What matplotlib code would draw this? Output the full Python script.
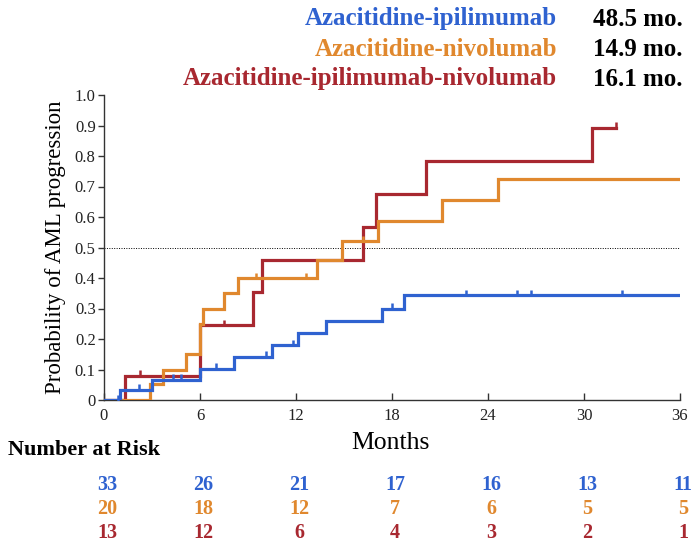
import matplotlib
matplotlib.use("Agg")
import matplotlib.pyplot as plt
from matplotlib.ticker import FixedLocator

plt.rcParams['font.family'] = ['Liberation Serif', 'DejaVu Serif']

# Cumulative incidence of AML progression (step functions, post)
arm_names = ["Azacitidine-ipilimumab", "Azacitidine-nivolumab",
             "Azacitidine-ipilimumab-nivolumab"]
median_labels = ["48.5 mo.", "14.9 mo.", "16.1 mo."]

ipi_t = [0, 1.0, 3.0, 6.0, 8.1, 10.5, 12.1, 13.9, 17.35, 18.75, 36]
ipi_p = [0, 0.033, 0.066, 0.103, 0.142, 0.18, 0.219, 0.26, 0.30, 0.344, 0.344]
ipi_cens_t = [0.9, 2.2, 4.3, 4.8, 7.0, 10.1, 11.8, 18.0, 22.6, 25.8, 26.7, 32.4]
ipi_cens_p = [0, 0.033, 0.066, 0.066, 0.103, 0.142, 0.18, 0.30, 0.344, 0.344, 0.344, 0.344]

nivo_t = [0, 2.9, 3.7, 5.1, 6.0, 6.2, 7.5, 8.4, 13.3, 14.9, 17.1, 21.1, 24.6, 36]
nivo_p = [0, 0.052, 0.098, 0.15, 0.25, 0.30, 0.352, 0.40, 0.459, 0.521, 0.588,
          0.656, 0.725, 0.725]
nivo_cens_t = [9.5, 12.6, 16.2]
nivo_cens_p = [0.40, 0.40, 0.521]

combo_t = [0, 1.3, 6.0, 9.3, 9.9, 16.2, 17.0, 20.1, 30.5, 32.0]
combo_p = [0, 0.08, 0.246, 0.353, 0.459, 0.568, 0.675, 0.785, 0.893, 0.893]
combo_cens_t = [2.25, 7.5, 32.0]
combo_cens_p = [0.08, 0.246, 0.893]

risk_months = [0, 6, 12, 18, 24, 30, 36]
risk_ipi = [33, 26, 21, 17, 16, 13, 11]
risk_nivo = [20, 18, 12, 7, 6, 5, 5]
risk_combo = [13, 12, 6, 4, 3, 2, 1]

y_ticks = [0, 0.1, 0.2, 0.3, 0.4, 0.5, 0.6, 0.7, 0.8, 0.9, 1.0]
y_tick_labels = ["0", "0.1", "0.2", "0.3", "0.4", "0.5", "0.6", "0.7", "0.8", "0.9", "1.0"]

BLUE = "#2f62d0"
ORANGE = "#e0882e"
RED = "#a82830"

fig = plt.figure(figsize=(6.91, 5.43), dpi=100)
ax = fig.add_axes([104/691, 1 - 400/543, 576/691, 305/543])

series = [
    (combo_t, combo_p, combo_cens_t, combo_cens_p, RED),
    (nivo_t, nivo_p, nivo_cens_t, nivo_cens_p, ORANGE),
    (ipi_t, ipi_p, ipi_cens_t, ipi_cens_p, BLUE),
]
for t, p, ct, cp, col in series:
    ax.step(t, p, where="post", color=col, lw=2.3, solid_joinstyle="miter", zorder=3)
    ax.plot(ct, [v + 0.008 for v in cp], linestyle="none", marker="|",
            markersize=5, markeredgewidth=1.8, color=col, zorder=4)

ax.axhline(0.5, xmin=0, xmax=1, color="black", lw=0.7, ls=(0, (1, 1.5)), zorder=1)

ax.set_xlim(0, 36)
ax.set_ylim(0, 1.0)
ax.xaxis.set_major_locator(FixedLocator(risk_months))
ax.set_xticklabels([str(m) for m in risk_months])
ax.yaxis.set_major_locator(FixedLocator(y_ticks))
ax.set_yticklabels(y_tick_labels)
for s in ("top", "right"):
    ax.spines[s].set_visible(False)
for s in ("left", "bottom"):
    ax.spines[s].set_linewidth(1.0)
    ax.spines[s].set_color("#333333")
ax.tick_params(axis="x", direction="in", length=5, width=1, labelsize=12, pad=6,
               colors="#333333", labelcolor="#222222")
ax.tick_params(axis="y", direction="out", length=4, width=1, labelsize=12, pad=2,
               colors="#333333", labelcolor="#222222")
ax.set_ylabel("Probability of AML progression", fontsize=16.5, labelpad=6)

fig.text(390/691, 1 - 443/543, "Months", fontsize=18.5, ha="center", va="center")

# Arm legend with median times
colors = [BLUE, ORANGE, RED]
rows_y = [19, 50, 79]
for name, med, col, yy in zip(arm_names, median_labels, colors, rows_y):
    fig.text(557/691, 1 - yy/543, name, fontsize=18, fontweight="bold", color=col,
             ha="right", va="center")
    fig.text(593/691, 1 - yy/543, med, fontsize=18, fontweight="bold", color="black",
             ha="left", va="center")

# Number at risk table, one column per x tick
fig.text(8/691, 1 - 450/543, "Number at Risk", fontsize=16, fontweight="bold",
         ha="left", va="center")
for vals, col, yy in zip([risk_ipi, risk_nivo, risk_combo], colors, [485, 509, 533]):
    for m, v in zip(risk_months, vals):
        xf = (107 + m * 16) / 691
        fig.text(xf, 1 - yy/543, str(v), fontsize=14.5, fontweight="bold", color=col,
                 ha="center", va="center")

fig.savefig("out.png", dpi=100)
